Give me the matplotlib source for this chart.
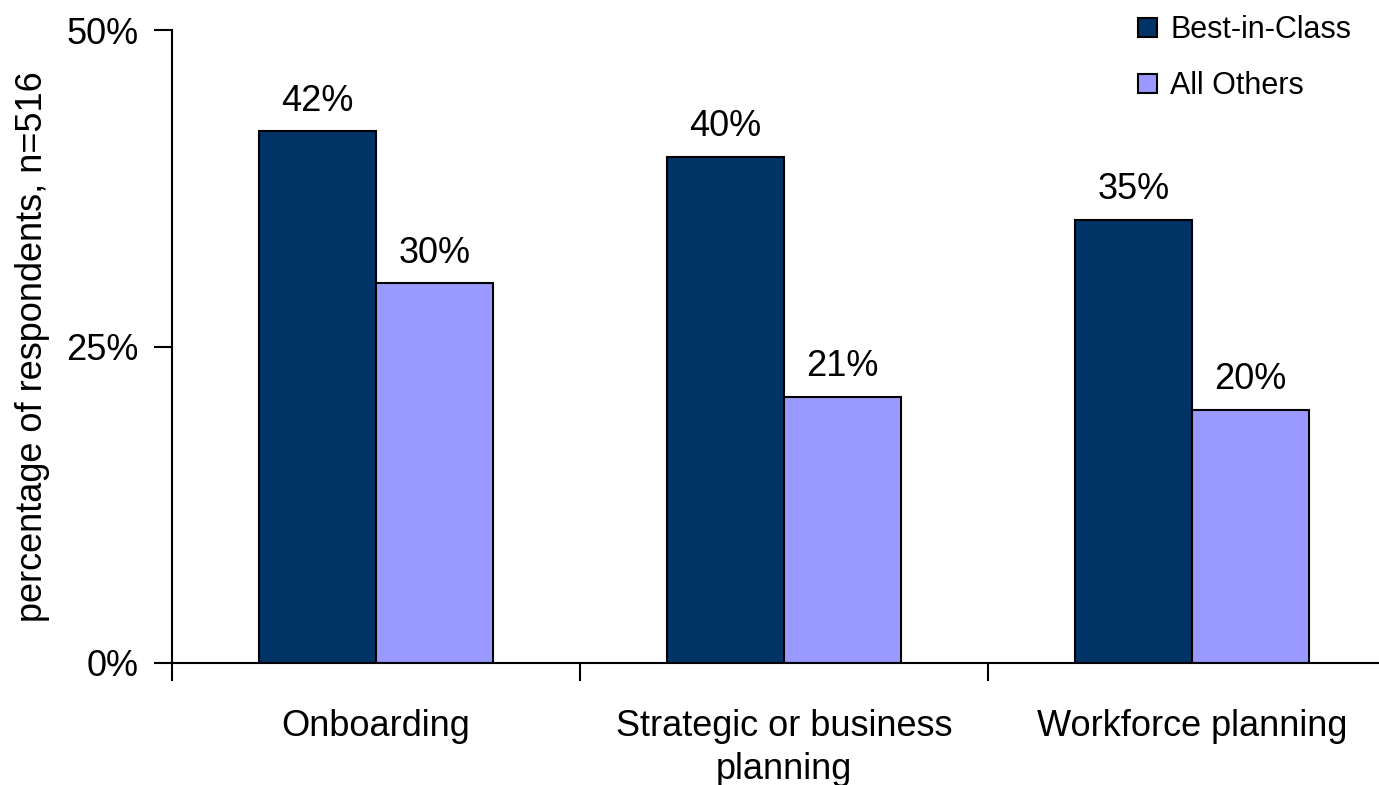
import numpy as np
import matplotlib.pyplot as plt
from matplotlib.ticker import FixedLocator

plt.rcParams['font.family'] = ['Liberation Sans', 'DejaVu Sans']

categories = ['Onboarding', 'Strategic or business\nplanning', 'Workforce planning']
best_in_class = [42, 40, 35]
all_others = [30, 21, 20]
yticks = [0, 25, 50]

fig = plt.figure(figsize=(13.79, 7.85), dpi=100)
ax = fig.add_axes([172 / 1379, 1 - 663 / 785, 1224 / 1379, 633 / 785])

x = np.arange(len(categories)) + 0.5
w = 0.286
b1 = ax.bar(x - w / 2, best_in_class, w, color='#003366', edgecolor='black', linewidth=1.5, label='Best-in-Class')
b2 = ax.bar(x + w / 2, all_others, w, color='#9999FF', edgecolor='black', linewidth=1.5, label='All Others')

for bars, vals in [(b1, best_in_class), (b2, all_others)]:
    for r, v in zip(bars, vals):
        ax.text(r.get_x() + r.get_width() / 2, v + 1.0, f'{v}%', ha='center', va='bottom', fontsize=26)

ax.set_xlim(0, 3)
ax.set_ylim(0, 50)
ax.set_yticks(yticks)
ax.set_yticklabels([f'{t}%' for t in yticks], fontsize=26)
ax.xaxis.set_major_locator(FixedLocator([0, 1, 2, 3]))
ax.set_xticklabels([])
ax.xaxis.set_minor_locator(FixedLocator(list(x)))
ax.set_xticklabels(categories, minor=True, fontsize=26, linespacing=1.3)
ax.tick_params(axis='x', which='major', length=13, width=1.5, direction='out')
ax.tick_params(axis='x', which='minor', length=0, pad=33)
ax.tick_params(axis='y', length=13, width=1.5, direction='out', pad=11)

ax.spines['top'].set_visible(False)
ax.spines['right'].set_visible(False)
ax.spines['left'].set_linewidth(1.5)
ax.spines['bottom'].set_linewidth(1.5)

ax.set_ylabel('percentage of respondents, n=516', fontsize=26, labelpad=12)

ax.legend(loc='upper left', bbox_to_anchor=(1120 / 1379, 1.004), bbox_transform=fig.transFigure,
          frameon=False, fontsize=22, handlelength=0.6, handleheight=0.6,
          handletextpad=0.45, labelspacing=0.85, borderaxespad=0.2)

fig.savefig('out.png', dpi=100)
